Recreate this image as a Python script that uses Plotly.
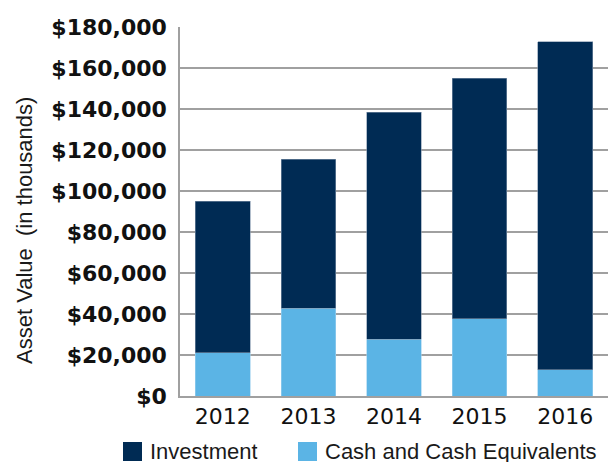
import plotly.graph_objects as go

# Asset composition by year (values in thousands of dollars)
years = ["2012", "2013", "2014", "2015", "2016"]
cash = [21100, 42800, 27800, 37600, 12800]
investment = [74000, 72800, 110600, 117400, 160000]

y_ticks = [0, 20000, 40000, 60000, 80000, 100000, 120000, 140000, 160000, 180000]
y_tick_labels = ["$0", "$20,000", "$40,000", "$60,000", "$80,000", "$100,000",
                 "$120,000", "$140,000", "$160,000", "$180,000"]

NAVY = "#002B54"
SKY = "#5BB4E5"
TEXT = "#1a1a1a"
SANS = "Liberation Sans, Arial, sans-serif"

W, H = 609, 463
L, R, T, B = 180, 1, 27, 67
plot_w, plot_h = W - L - R, H - T - B


def px_x(px):
    return (px - L) / plot_w


def px_y(py):
    return (H - B - py) / plot_h


fig = go.Figure()
fig.add_trace(go.Bar(
    x=years, y=cash, name="Cash and Cash Equivalents",
    marker=dict(color=SKY, line=dict(color="#9fd0ee", width=0.6)),
))
fig.add_trace(go.Bar(
    x=years, y=investment, name="Investment",
    marker=dict(color=NAVY, line=dict(color="#7f93aa", width=0.6)),
))

# Legend below the axis: colour swatches with labels
legend_items = [("Investment", NAVY, 123), ("Cash and Cash Equivalents", SKY, 298)]
shapes, annotations = [], []
for label, color, left in legend_items:
    shapes.append(dict(
        type="rect", xref="paper", yref="paper",
        x0=px_x(left), x1=px_x(left + 19), y0=px_y(461), y1=px_y(442),
        fillcolor=color, line=dict(width=0),
    ))
    annotations.append(dict(
        text=label, xref="paper", yref="paper",
        x=px_x(left + 26), y=px_y(451), xanchor="left", yanchor="middle",
        height=22, borderpad=0,
        showarrow=False, font=dict(family=SANS, size=22, color=TEXT),
    ))

# Vertical axis title
annotations.append(dict(
    text="Asset Value  (in thousands)", xref="paper", yref="paper",
    x=px_x(24), y=px_y(231), xanchor="center", yanchor="middle",
    textangle=-90, showarrow=False, font=dict(family=SANS, size=22, color=TEXT),
))

fig.update_layout(
    width=W, height=H,
    barmode="stack", bargap=0.36,
    plot_bgcolor="white", paper_bgcolor="white",
    margin=dict(l=L, r=R, t=T, b=B),
    showlegend=False,
    shapes=shapes, annotations=annotations,
    font=dict(family=SANS, color=TEXT),
)

fig.update_xaxes(
    showgrid=False,
    showline=True, linecolor="#a0a0a0", linewidth=1.5,
    ticks="", tickfont=dict(family="DejaVu Sans, sans-serif", size=22, color="#111"),
)
fig.update_yaxes(
    range=[0, 180000],
    tickmode="array", tickvals=y_ticks, ticktext=y_tick_labels,
    showgrid=True, gridcolor="#a0a0a0", gridwidth=1.5,
    showline=True, linecolor="#a0a0a0", linewidth=1.5,
    zeroline=False, ticks="", ticklabelstandoff=7,
    tickfont=dict(family="DejaVu Sans, sans-serif", size=22, weight="bold", color="#111"),
)

fig.write_html("out.html")
